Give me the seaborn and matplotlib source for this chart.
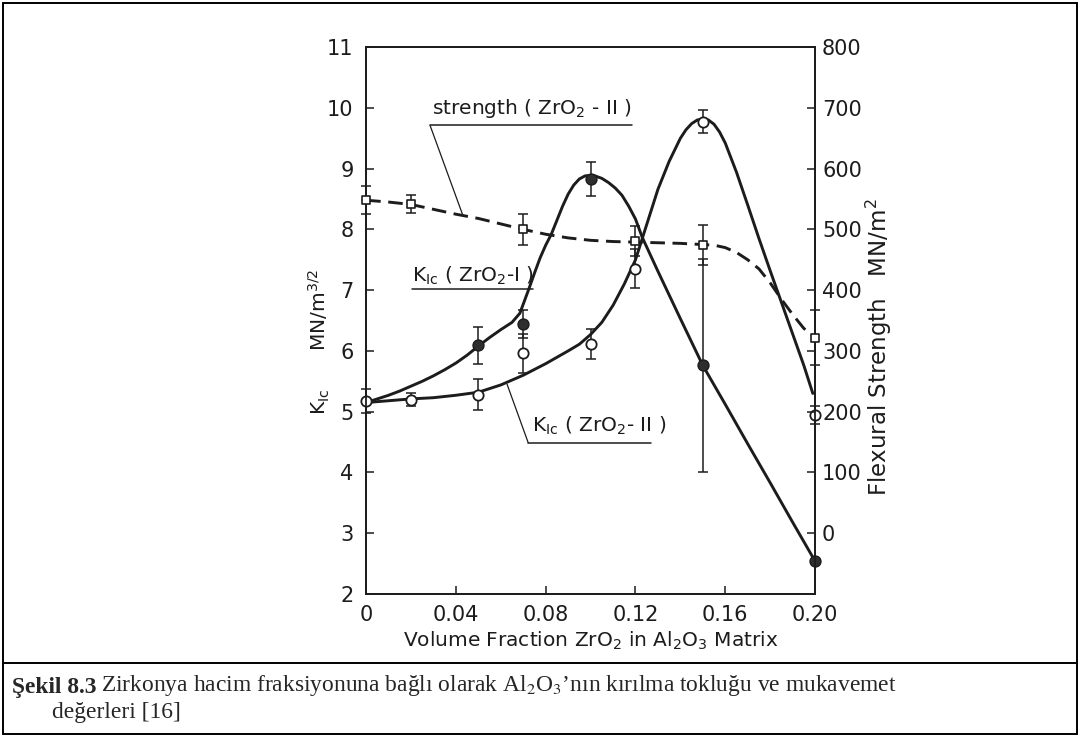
import seaborn as sns
import matplotlib.pyplot as plt
from matplotlib.patches import Rectangle
from matplotlib.lines import Line2D

# measured points, K_Ic in MN/m^3/2
frac_I = [0.05, 0.07, 0.10, 0.15, 0.20]
kic_I = [6.09, 6.44, 8.83, 5.76, 2.54]
kic_I_err = [0.30, 0.23, 0.28, 1.75, 0.0]

frac_II = [0, 0.02, 0.05, 0.07, 0.10, 0.12, 0.15, 0.20]
kic_II = [5.17, 5.20, 5.28, 5.96, 6.11, 7.35, 9.77, 4.95]
kic_II_err = [0.20, 0.10, 0.25, 0.32, 0.25, 0.32, 0.19, 0.15]

# flexural strength, MN/m^2
frac_str = [0, 0.02, 0.07, 0.12, 0.15, 0.20]
strength = [548, 542, 500, 481, 475, 322]
strength_err = [23, 15, 26, 24, 33, 45]

# hand drawn curves
curve_I_x = [0, 0.005, 0.01, 0.015, 0.02, 0.025, 0.03, 0.035, 0.04, 0.045, 0.05,
             0.055, 0.06, 0.065, 0.0685, 0.0705, 0.0725, 0.075, 0.0775, 0.08,
             0.0825, 0.085, 0.0875, 0.09, 0.0925, 0.095, 0.0975, 0.10, 0.102,
             0.105, 0.108, 0.111, 0.114, 0.117, 0.12, 0.123, 0.13, 0.14, 0.15,
             0.16, 0.17, 0.18, 0.19, 0.20]
curve_I_y = [5.15, 5.21, 5.27, 5.34, 5.42, 5.5, 5.59, 5.69, 5.8, 5.93, 6.08,
             6.22, 6.35, 6.47, 6.62, 6.82, 7.02, 7.28, 7.53, 7.74,
             7.92, 8.15, 8.38, 8.58, 8.73, 8.83, 8.88, 8.89, 8.88,
             8.84, 8.77, 8.68, 8.56, 8.38, 8.17, 7.87, 7.31, 6.53, 5.76,
             5.12, 4.47, 3.83, 3.18, 2.54]

curve_II_x = [0, 0.01, 0.02, 0.03, 0.04, 0.05, 0.06, 0.07, 0.08, 0.09, 0.095,
              0.10, 0.105, 0.11, 0.115, 0.12, 0.125, 0.13, 0.135, 0.14, 0.1425,
              0.145, 0.1475, 0.15, 0.1525, 0.155, 0.1575, 0.16, 0.165, 0.17,
              0.175, 0.18, 0.185, 0.19, 0.195, 0.199]
curve_II_y = [5.15, 5.18, 5.21, 5.23, 5.27, 5.32, 5.44, 5.6, 5.79, 6.0, 6.11,
              6.27, 6.47, 6.75, 7.1, 7.5, 8.08, 8.66, 9.12, 9.5, 9.64,
              9.74, 9.8, 9.82, 9.8, 9.73, 9.6, 9.42, 8.94, 8.4,
              7.85, 7.32, 6.8, 6.28, 5.76, 5.3]

curve_str_x = [0, 0.01, 0.02, 0.03, 0.04, 0.05, 0.06, 0.07, 0.08, 0.09, 0.10,
               0.11, 0.12, 0.13, 0.14, 0.15, 0.155, 0.16, 0.165, 0.17, 0.175,
               0.18, 0.185, 0.19, 0.195, 0.20]
curve_str_y = [548, 545, 541, 533, 525, 518, 509, 500, 492, 486, 482,
               480, 479, 478, 477, 475, 474, 470, 462, 450, 435,
               412, 385, 360, 337, 322]

x_ticks = [0, 0.04, 0.08, 0.12, 0.16, 0.20]
x_ticklabels = ["0", "0.04", "0.08", "0.12", "0.16", "0.20"]
k_ticks = [2, 3, 4, 5, 6, 7, 8, 9, 10, 11]
s_ticks = [0, 100, 200, 300, 400, 500, 600, 700, 800]

sns.set_theme(style="ticks")
plt.rcParams["font.family"] = ["DejaVu Sans"]
tick_font = ["Liberation Sans Narrow", "DejaVu Sans"]
ink = "#1c1c1c"

fig = plt.figure(figsize=(10.8, 7.36), dpi=100)
ax = fig.add_axes([0.339, 0.193, 0.4157, 0.743])
ax2 = ax.twinx()

# K_Ic curves
sns.lineplot(x=curve_I_x, y=curve_I_y, sort=False, estimator=None, ax=ax,
             color=ink, linewidth=2.1, zorder=2)
sns.lineplot(x=curve_II_x, y=curve_II_y, sort=False, estimator=None, ax=ax,
             color=ink, linewidth=2.1, zorder=2)

ax.errorbar(frac_I, kic_I, yerr=kic_I_err, fmt="none", ecolor=ink, elinewidth=1.1,
            capsize=3.3, capthick=1.1, zorder=3, clip_on=False)
ax.errorbar(frac_II, kic_II, yerr=kic_II_err, fmt="none", ecolor=ink, elinewidth=1.1,
            capsize=3.3, capthick=1.1, zorder=3, clip_on=False)
sns.scatterplot(x=frac_I, y=kic_I, ax=ax, marker="o", s=62, color="#2e2e2e",
                edgecolor=ink, linewidth=1.0, zorder=5, clip_on=False)
sns.scatterplot(x=frac_II, y=kic_II, ax=ax, marker="o", s=55, color="white",
                edgecolor=ink, linewidth=1.3, zorder=5, clip_on=False)

# strength on the right axis
sns.lineplot(x=curve_str_x, y=curve_str_y, sort=False, estimator=None, ax=ax2,
             color=ink, linewidth=2.1, zorder=2)
ax2.lines[-1].set_dashes((5, 2.6))
ax2.errorbar(frac_str, strength, yerr=strength_err, fmt="none", ecolor=ink,
             elinewidth=1.1, capsize=3.3, capthick=1.1, zorder=3, clip_on=False)
sns.scatterplot(x=frac_str, y=strength, ax=ax2, marker="s", s=38, color="white",
                edgecolor=ink, linewidth=1.2, zorder=5, clip_on=False)

# axes
ax.set_xlim(0, 0.2)
ax.set_ylim(2, 11)
ax2.set_ylim(-100, 800)
ax.set_xticks(x_ticks)
ax.set_xticklabels(x_ticklabels)
ax.set_yticks(k_ticks)
ax2.set_yticks(s_ticks)
for a in (ax, ax2):
    for side in ["left", "right", "top", "bottom"]:
        a.spines[side].set_visible(True)
        a.spines[side].set_linewidth(1.3)
        a.spines[side].set_color(ink)
    a.tick_params(direction="in", length=6, width=1.1, colors=ink)
ax.tick_params(axis="y", pad=9)
ax.tick_params(axis="x", pad=8)
ax2.tick_params(axis="y", pad=5)
for lab in ax.get_xticklabels() + ax.get_yticklabels() + ax2.get_yticklabels():
    lab.set_family(tick_font)
    lab.set_fontsize(15)
ax.grid(False)
ax2.grid(False)

ax.set_xlabel("Volume Fraction ZrO$_2$ in Al$_2$O$_3$ Matrix", fontsize=14.5,
              color=ink)
ax.xaxis.set_label_coords(0.5, -0.066)
ax.set_ylabel("K$_{\\mathrm{Ic}}$      MN/m$^{3/2}$", fontsize=14.5, color=ink)
ax.yaxis.set_label_coords(-0.0757, 0.46)
ax2.set_ylabel("Flexural Strength   MN/m$^2$", fontsize=16.5, color=ink)
ax2.yaxis.set_label_coords(1.108, 0.4516)

# callouts
txt = dict(fontsize=14.5, color=ink, va="center", ha="left")
ax.text(0.0294, 9.99, "strength ( ZrO$_2$ - II )", **txt)
ax.plot([0.0285, 0.1185], [9.71, 9.71], color=ink, lw=1.1)
ax.plot([0.0285, 0.0432], [9.71, 8.22], color=ink, lw=0.9)

ax.text(0.0205, 7.23, "K$_{\\mathrm{Ic}}$ ( ZrO$_2$-I )", **txt)
ax.plot([0.0205, 0.0744], [7.02, 7.02], color=ink, lw=1.1)

ax.text(0.074, 4.76, "K$_{\\mathrm{Ic}}$ ( ZrO$_2$- II )", **txt)
ax.plot([0.0722, 0.127], [4.49, 4.49], color=ink, lw=1.1)
ax.plot([0.0722, 0.0628], [4.49, 5.45], color=ink, lw=0.9)

# page frame and caption
fig.add_artist(Rectangle((0.003, 0.003), 0.994, 0.993, transform=fig.transFigure,
                         fill=False, edgecolor="black", linewidth=1.4))
fig.add_artist(Line2D([0.003, 0.997], [1 - 663 / 736, 1 - 663 / 736],
                      transform=fig.transFigure, color="black", linewidth=1.4))

cap_font = ["Liberation Serif", "DejaVu Serif"]
bold = fig.text(0.011, 1 - 693 / 736, "Şekil 8.3", fontsize=16.9, family=cap_font,
                weight="bold", va="baseline", ha="left")
ax.annotate("Zirkonya hacim fraksiyonuna bağlı olarak Al$_2$O$_3$’nın kırılma "
            "tokluğu ve mukavemet", xy=(1, 0), xycoords=bold, xytext=(3, 0),
            textcoords="offset points", fontsize=16.9, family=cap_font,
            math_fontfamily="stix", va="bottom", ha="left", annotation_clip=False)
fig.text(0.048, 1 - 718 / 736, "değerleri [16]", fontsize=16.9, family=cap_font,
         va="baseline", ha="left")

plt.savefig("out.png", dpi=100)
